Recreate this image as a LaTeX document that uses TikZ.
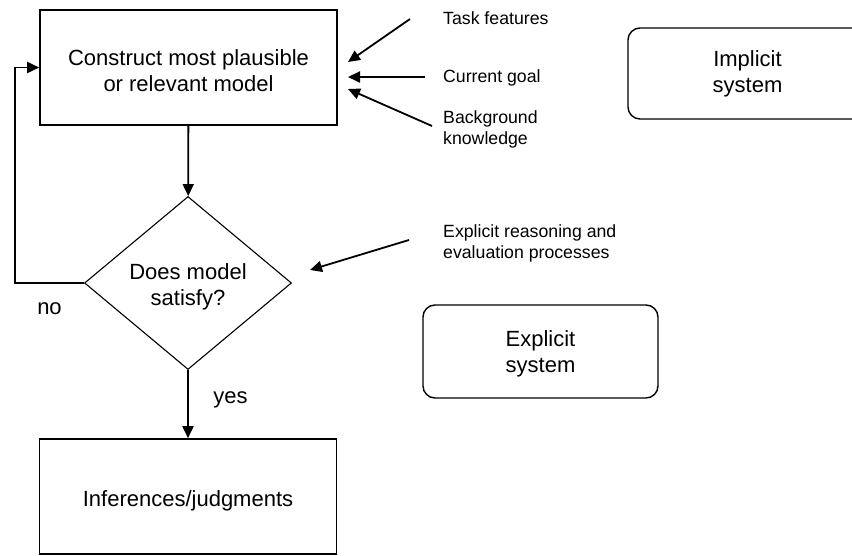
\documentclass[tikz,border=0pt]{standalone}
\usepackage{fontspec}
\setmainfont{Liberation Sans}
\usetikzlibrary{arrows.meta,shapes.geometric}
\begin{document}
\begin{tikzpicture}[x=1pt,y=-1pt,
  mainfont/.style={font=\fontsize{22}{26}\selectfont},
  smallfont/.style={font=\fontsize{17.7}{21.5}\selectfont},
  stepbox/.style={draw, line width=1.6pt, minimum width=297pt, minimum height=115pt, inner sep=0pt},
  decision/.style={draw, diamond, line width=1.1pt, minimum width=207pt, minimum height=173pt, inner sep=0pt, shape aspect=1.2},
  sysbox/.style={draw, rounded corners=12pt, line width=1.4pt, inner sep=0pt},
  arr/.style={line width=1.8pt, -{Triangle[length=12pt,width=11pt]}},
  lbl/.style={smallfont, align=left, anchor=north west, inner sep=0pt},
  txt/.style={mainfont, align=center, inner sep=0pt}
]
\useasboundingbox (0,0) rectangle (852,556);
\clip (0,0) rectangle (852,556);

% main flow
\node[stepbox, label={[txt,yshift=-3pt]center:{Construct most plausible\\or relevant model}}] (top) at (188.5,67.5) {};
\node[decision, label={[txt,yshift=-4pt]center:{Does model\\satisfy?}}] (dia) at (188,283) {};
\node[stepbox, label={[txt,yshift=-4.5pt]center:{Inferences/judgments}}] (bot) at (188,496.5) {};

% system boxes
\node[sysbox, minimum width=239pt, minimum height=91pt, label={[txt]center:{Implicit\\system}}] (imp) at (747.5,73.5) {};
\node[sysbox, minimum width=235pt, minimum height=93pt, label={[txt,yshift=-2.3pt]center:{Explicit\\system}}] (exp) at (540.5,351.5) {};

% side labels
\node[lbl] (tf) at (443,11) {Task features};
\node[lbl] (cg) at (443,69) {Current goal};
\node[lbl] (bk) at (443,110) {Background\\knowledge};
\node[lbl] (er) at (443,224) {Explicit reasoning and\\evaluation processes};

\node[txt, anchor=base] (no) at (49.5,315) {no};
\node[txt, anchor=base] (yes) at (230.5,403) {yes};

% arrow end points
\coordinate (tfS) at (410,19);
\coordinate (tfE) at (348,62);
\coordinate (cgS) at (425,77);
\coordinate (cgE) at (348,77);
\coordinate (bkS) at (432,126);
\coordinate (bkE) at (348,89);
\coordinate (erS) at (409,240);
\coordinate (erE) at (310,270);

% connectors
\draw[arr] (top) -- (dia);
\draw[arr] (dia) -- (bot);
\draw[arr] (dia.west) -- ++(-69,0) |- (top.west);
\draw[arr] (tfS) -- (tfE);
\draw[arr] (cgS) -- (cgE);
\draw[arr] (bkS) -- (bkE);
\draw[arr] (erS) -- (erE);
\end{tikzpicture}
\end{document}
